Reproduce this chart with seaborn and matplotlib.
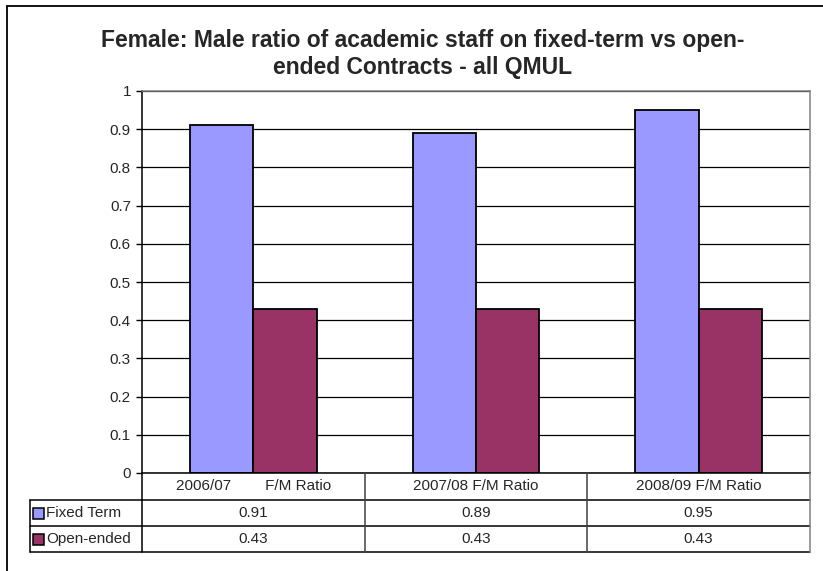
import matplotlib
matplotlib.use("Agg")
import matplotlib.pyplot as plt
import matplotlib.transforms as mtransforms
from matplotlib.lines import Line2D
from matplotlib.patches import Rectangle
import seaborn as sns
import pandas as pd

# datos
periods = ["2006/07        F/M Ratio", "2007/08 F/M Ratio", "2008/09 F/M Ratio"]
series = ["Fixed Term", "Open-ended"]
fixed_term = [0.91, 0.89, 0.95]
open_ended = [0.43, 0.43, 0.43]
colors = ["#9999FF", "#993366"]
ytick_values = [0, 0.1, 0.2, 0.3, 0.4, 0.5, 0.6, 0.7, 0.8, 0.9, 1]
ytick_labels = ["0", "0.1", "0.2", "0.3", "0.4", "0.5", "0.6", "0.7", "0.8", "0.9", "1"]
title = "Female: Male ratio of academic staff on fixed-term vs open-\nended Contracts - all QMUL"

W, H = 823, 571

sns.set_style("white")
plt.rcParams["font.family"] = ["Liberation Sans", "DejaVu Sans"]

df = pd.DataFrame({
    "period": periods * 2,
    "series": [series[0]] * len(periods) + [series[1]] * len(periods),
    "ratio": fixed_term + open_ended,
})


def fx(px):
    return px / W


def fy(py):
    return 1 - py / H


fig = plt.figure(figsize=(W / 100, H / 100), dpi=100)
ax = fig.add_axes([fx(142), fy(473), 668 / W, 382 / H])

sns.barplot(data=df, x="period", y="ratio", hue="series", order=periods,
            hue_order=series, palette=colors, width=0.57, gap=0,
            saturation=1, edgecolor="black", linewidth=1.3, legend=False, ax=ax)

ax.set_xlim(-0.5, len(periods) - 0.5)
ax.set_ylim(0, 1)
ax.set_yticks(ytick_values)
ax.set_yticklabels(ytick_labels)
ax.set_xticks([])
ax.set_xlabel("")
ax.set_ylabel("")
ax.yaxis.grid(True, color="black", linewidth=0.9)
ax.set_axisbelow(True)
ax.tick_params(axis="y", direction="out", length=4, width=1, color="black",
               labelsize=11, pad=4, left=True)
for side in ["left", "bottom"]:
    ax.spines[side].set_color("black")
    ax.spines[side].set_linewidth(1.1)
for side in ["top", "right"]:
    ax.spines[side].set_color("#808080")
    ax.spines[side].set_linewidth(1.1)

# tabla de datos debajo del grafico
blend = mtransforms.blended_transform_factory(ax.transData, fig.transFigure)
row_tops = [473, 500, 526, 552]


def hline(y, x0=30, x1=810, color="black"):
    fig.add_artist(Line2D([fx(x0), fx(x1)], [fy(y), fy(y)], color=color, lw=1.1))


def vline(x, y0, y1, color="black"):
    fig.add_artist(Line2D([fx(x), fx(x)], [fy(y0), fy(y1)], color=color, lw=1.1))


hline(500)
hline(526)
hline(552)
vline(30, 500, 552)
vline(142, 473, 552)
vline(810, 473, 552, color="#808080")
for i in range(len(periods) - 1):
    fig.add_artist(Line2D([i + 0.5, i + 0.5], [fy(473), fy(552)], color="#404040",
                          lw=1.1, transform=blend))

for i, p in enumerate(periods):
    fig.text(i, fy((row_tops[0] + row_tops[1]) / 2), p, transform=blend,
             ha="center", va="center", fontsize=11)

rows = [fixed_term, open_ended]
for r, (name, vals, col) in enumerate(zip(series, rows, colors)):
    yc = fy((row_tops[r + 1] + row_tops[r + 2]) / 2)
    for i, v in enumerate(vals):
        fig.text(i, yc, f"{v:.2f}", transform=blend, ha="center", va="center", fontsize=11)
    fig.add_artist(Rectangle((fx(33), yc - 5.5 / H), 11 / W, 11 / H, facecolor=col,
                             edgecolor="black", lw=1.1))
    fig.text(fx(46), yc, name, ha="left", va="center", fontsize=11)

# titulo
fig.text(fx(423), fy(29), title, ha="center", va="top", fontsize=16.5,
         fontweight="bold", linespacing=1.22)

# marco exterior (cortado a la derecha y abajo)
fig.add_artist(Line2D([fx(7.5), 1.0], [fy(5.5), fy(5.5)], color="black", lw=1.3))
fig.add_artist(Line2D([fx(7.5), fx(7.5)], [fy(5.5), 0.0], color="black", lw=1.3))

fig.savefig("out.png", dpi=100)
plt.close(fig)
